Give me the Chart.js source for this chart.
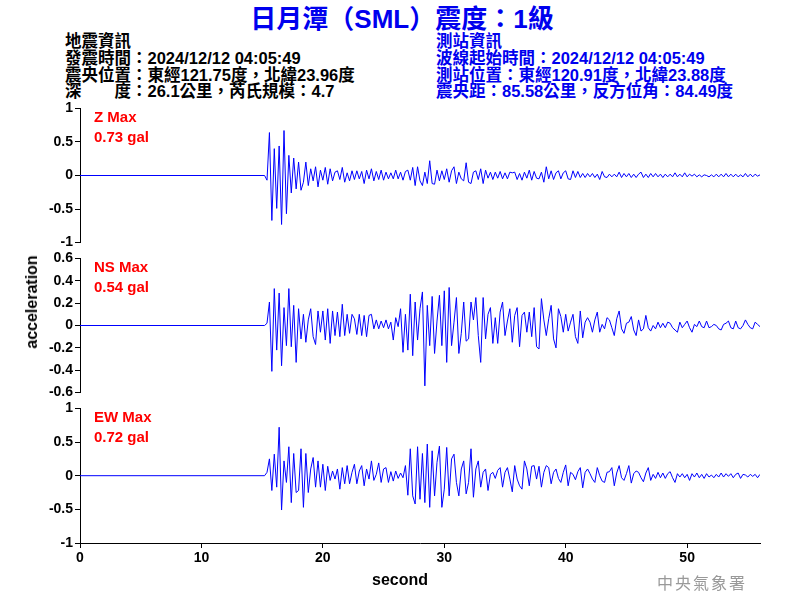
<!DOCTYPE html>
<html>
<head>
<meta charset="utf-8">
<script src="https://cdn.jsdelivr.net/npm/chart.js@4.4.1/dist/chart.umd.min.js"></script>
<style>
  body { margin: 0; background: #fff; }
  #wrap { position: relative; width: 800px; height: 600px; overflow: hidden;
          font-family: "Liberation Sans", Arial, "Noto Sans CJK TC", sans-serif; }
  canvas { position: absolute; left: 0; }
  #title { position: absolute; left: 0; top: 4px; width: 804px; text-align: center;
           font-size: 26px; font-weight: bold; color: #0000ee; line-height: 30px; }
  .info { position: absolute; top: 33px; font-size: 16.5px; font-weight: bold; line-height: 16.8px; white-space: nowrap; }
  #infoL { left: 65px; color: #000; }
  #infoR { left: 436px; color: #0000ee; }
  #ylab { position: absolute; left: 32px; top: 302px; transform: translate(-50%, -50%) rotate(-90deg);
          font-size: 16px; font-weight: bold; white-space: nowrap; }
  #xlab { position: absolute; left: 400px; top: 580px; transform: translate(-50%, -50%);
          font-size: 16px; font-weight: bold; }
  #mark { position: absolute; left: 657px; top: 570px; font-size: 16px; color: #999;
          letter-spacing: 2px; font-family: "Noto Sans CJK TC", sans-serif; }
</style>
</head>
<body>
<div id="wrap">
  <div id="title">日月潭（SML）震度：1級</div>
  <div class="info" id="infoL">地震資訊<br>發震時間：2024/12/12 04:05:49<br>震央位置：東經121.75度，北緯23.96度<br>深　　度：26.1公里，芮氏規模：4.7</div>
  <div class="info" id="infoR">測站資訊<br>波線起始時間：2024/12/12 04:05:49<br>測站位置：東經120.91度，北緯23.88度<br>震央距：85.58公里，反方位角：84.49度</div>
  <canvas id="cz" width="800" height="155" style="top:98px"></canvas>
  <canvas id="cns" width="800" height="155" style="top:248px"></canvas>
  <canvas id="cew" width="800" height="202" style="top:398px"></canvas>
  <div id="ylab">acceleration</div>
  <div id="xlab">second</div>
  <div id="mark">中央氣象署</div>
</div>
<script>
// record starts at T0 (flat before), one value every DT seconds
const T0 = 15.2;
const DT = 0.2;
const X_MAX = 56;

const zVals = [
  0, -0.07, 0.64, -0.67, 0.4, -0.49, 0.44, -0.73, 0.67, -0.57,
  0.3, -0.26, 0.26, -0.2, 0.2, -0.22, -0.1, 0.2, -0.15, 0.1,
  -0.08, 0.13, -0.17, 0.08, -0.07, 0.12, -0.13, 0.1, -0.08, 0.05,
  0.07, -0.06, 0.12, -0.1, 0.04, -0.08, 0.07, -0.06, 0.07, -0.05,
  0.06, -0.12, 0.08, -0.05, 0.1, -0.08, 0.06, -0.06, 0.08, -0.07,
  0.05, -0.05, 0.04, -0.05, 0.08, -0.05, 0.05, -0.07, 0.06, 0.08,
  -0.07, 0.12, -0.15, 0.13, -0.08, -0.15, 0.05, -0.12, 0.22, -0.12,
  -0.13, 0.08, -0.08, 0.07, -0.06, 0.1, -0.1, 0.07, 0.13, -0.12,
  0.05, -0.05, -0.08, 0.19, -0.1, -0.12, 0.05, 0.07, -0.06, 0.1,
  -0.12, 0.08, -0.04, 0.05, -0.06, 0.05, -0.04, 0.06, -0.05, 0.04,
  -0.05, 0.05, 0.04, 0.05, -0.06, 0.03, -0.07, 0.05, -0.04, 0.08,
  -0.07, 0.06, -0.04, -0.05, 0.05, -0.1, 0.13, -0.05, 0.07, -0.06,
  0.04, 0.07, -0.05, 0.04, 0.07, -0.05, -0.06, 0.07, -0.03, 0.06,
  -0.03, 0.03, -0.03, 0.03, -0.02, 0.03, -0.03, 0.02, -0.06, 0.06,
  -0.02, -0.03, 0.02, -0.02, 0.02, -0.02, 0.05, -0.03, 0.03, -0.02,
  0.03, -0.03, 0.02, -0.03, 0.02, 0.05, -0.03, 0.02, -0.03, 0.03,
  -0.02, 0.03, -0.02, 0.02, -0.03, 0.02, -0.02, 0.02, -0.02, 0.04,
  -0.02, 0.02, -0.02, 0.04, -0.02, 0.02, -0.01, 0.02, -0.02, 0.01,
  -0.02, 0.01, 0, -0.02, 0.01, -0.02, 0.02, -0.02, 0.02, -0.02,
  0.03, -0.02, 0.02, -0.02, 0.02, -0.02, 0.01, -0.02, 0.03, -0.02,
  0.02, -0.02, 0.02, -0.01, 0.01
];

const nsVals = [
  0, 0.02, 0.21, -0.41, 0.33, -0.22, 0.29, -0.36, 0.16, -0.18,
  0.33, -0.19, 0.18, -0.33, 0.15, -0.12, 0.1, -0.15, 0.05, 0.15,
  -0.1, -0.17, 0.13, -0.06, 0.13, -0.13, 0.15, -0.16, 0.13, -0.09,
  0.12, -0.1, 0.19, -0.09, 0.1, -0.07, 0.1, 0.06, -0.08, 0.1,
  -0.09, 0.09, -0.1, 0.09, 0.1, -0.03, 0.05, -0.03, 0.04, -0.02,
  0.05, -0.03, 0.03, -0.13, 0.07, -0.01, 0.15, -0.24, 0.1, -0.22,
  0.28, -0.27, 0.21, -0.13, 0.15, 0.3, -0.54, 0.18, -0.18, 0.26,
  -0.25, 0.04, 0.27, -0.18, 0.31, -0.33, 0.34, -0.18, 0.03, 0.25,
  -0.25, -0.07, 0.21, -0.14, -0.12, 0.21, 0.05, 0.25, -0.09, -0.33,
  0.25, -0.12, 0.1, 0.16, -0.16, 0.07, -0.16, 0.12, 0.21, -0.09,
  0.04, 0.15, -0.15, 0.09, 0.16, -0.19, 0.09, 0.12, -0.06, 0.12,
  -0.1, 0.16, -0.19, -0.21, 0.24, 0.05, -0.09, 0.06, 0.18, -0.12,
  -0.2, 0.15, 0.08, -0.06, 0.1, -0.05, 0.03, 0.1, -0.1, -0.16,
  0.13, -0.11, 0.03, 0.07, 0.03, -0.06, 0.05, 0.12, -0.06, 0.01,
  -0.03, 0.07, 0.05, -0.02, -0.09, 0.06, 0.13, -0.03, -0.07, 0.02,
  0.03, 0.08, -0.04, -0.09, 0.05, -0.05, -0.03, 0.09, -0.02, -0.05,
  0, -0.03, 0.03, -0.02, 0.02, -0.02, 0.03, 0.02, -0.02, -0.04,
  -0.06, 0.03, -0.02, 0.01, 0.04, -0.02, -0.06, 0.01, -0.01, 0.04,
  -0.01, -0.02, 0.04, -0.02, -0.01, 0.01, 0, -0.03, -0.04, 0.01,
  0.02, 0.04, -0.02, -0.03, 0.04, -0.02, -0.03, 0, 0.05, 0.01,
  -0.02, -0.03, 0.03, 0.01, -0.01
];

const ewVals = [
  0, 0.05, 0.25, -0.22, 0.32, -0.17, 0.72, -0.51, 0.22, -0.1,
  0.43, -0.4, 0.33, -0.25, -0.22, 0.4, -0.47, 0.33, -0.25, 0.1,
  0.27, -0.17, 0.22, -0.17, 0.17, -0.22, 0.14, -0.07, 0.07, -0.05,
  0.1, -0.2, 0.12, -0.12, 0.15, -0.12, 0.05, 0.17, -0.12, 0.07,
  0.15, -0.15, 0.1, -0.05, 0.22, -0.07, 0.02, 0.19, -0.1, 0.1,
  0.12, -0.1, 0.06, -0.08, 0.07, -0.04, 0.04, -0.03, 0.15, -0.29,
  0.4, -0.3, -0.42, 0.43, -0.35, 0.33, -0.4, 0.47, -0.47, 0.37,
  -0.3, 0.2, 0.44, -0.47, -0.2, 0.42, -0.3, 0.25, 0.32, -0.1,
  -0.3, 0.1, 0.22, -0.27, -0.1, 0.4, -0.32, 0.1, 0.22, -0.17,
  0.05, 0.1, -0.22, 0.02, 0.05, -0.04, 0.08, 0.12, -0.17, 0.05,
  0.12, -0.05, -0.24, 0.15, -0.05, -0.15, -0.2, 0.22, 0.1, -0.15,
  0.14, 0.15, -0.05, 0.14, -0.17, 0.05, 0.15, 0.12, -0.12, 0.05,
  0.1, -0.04, -0.1, 0.05, 0.16, -0.15, 0.05, 0.02, -0.06, 0.06,
  0.12, -0.18, 0.05, 0.1, 0.03, -0.05, -0.1, 0.12, 0, -0.08,
  -0.1, 0.05, 0.06, 0.12, -0.15, 0.04, 0.15, -0.03, -0.07, 0.03,
  0.15, -0.11, 0.03, 0.07, 0.05, -0.03, -0.09, 0.04, 0.12, -0.07,
  0.02, -0.04, 0.05, -0.03, 0.04, -0.04, 0.03, 0.06, -0.03, -0.1,
  0.03, -0.02, 0.03, -0.03, 0.02, -0.07, 0.03, -0.02, 0.04, -0.03,
  0.02, -0.04, 0.03, -0.02, 0.01, -0.03, 0.02, -0.02, 0.04, -0.02,
  0.03, -0.01, 0.03, -0.03, 0.02, 0.04, -0.04, 0.02, 0.01, -0.02,
  0.02, -0.01, 0.02, -0.03, 0.02
];

const zPeak = '0.73 gal';
const nsPeak = '0.54 gal';
const ewPeak = '0.72 gal';

const tickFont = { family: 'Liberation Sans', weight: 'bold', size: 14 };

function toPoints(vals) {
  const pts = [{ x: 0, y: 0 }];
  vals.forEach((v, i) => pts.push({ x: +(T0 + i * DT).toFixed(2), y: v }));
  return pts;
}

const maxLabel = {
  id: 'maxLabel',
  afterDraw(chart, args, opts) {
    const { ctx, chartArea } = chart;
    ctx.save();
    ctx.fillStyle = '#ff0000';
    ctx.font = 'bold 15px "Liberation Sans"';
    ctx.fillText(opts.name, chartArea.left + 14, chartArea.top + 14);
    ctx.fillText(opts.peak, chartArea.left + 14, chartArea.top + 34);
    ctx.restore();
  }
};

function makePanel(id, vals, yMin, yMax, yStep, name, peak, showX) {
  new Chart(document.getElementById(id), {
    type: 'line',
    data: {
      datasets: [{
        data: toPoints(vals),
        borderColor: '#0000ff',
        borderWidth: 1,
        pointRadius: 0,
        tension: 0,
        fill: false
      }]
    },
    options: {
      responsive: false,
      animation: false,
      layout: { padding: { top: 10, bottom: showX ? 0 : 10, left: 0, right: 40 } },
      plugins: {
        legend: { display: false },
        tooltip: { enabled: false },
        maxLabel: { name: name, peak: peak }
      },
      scales: {
        x: {
          type: 'linear',
          min: 0,
          max: X_MAX,
          display: showX,
          ticks: { stepSize: 10, includeBounds: false, color: '#000', font: tickFont, padding: 2, maxRotation: 0 },
          grid: { drawOnChartArea: false, tickLength: 5, color: '#000' },
          border: { color: '#000' },
          afterFit: s => { if (showX) s.height = 57; }
        },
        y: {
          min: yMin,
          max: yMax,
          ticks: {
            stepSize: yStep, autoSkip: false, color: '#000', font: tickFont, padding: 2,
            callback: v => String(+v.toFixed(2))
          },
          grid: { drawOnChartArea: false, tickLength: 5, color: '#000' },
          border: { color: '#000' },
          afterFit: s => { s.width = 80; }
        }
      }
    },
    plugins: [maxLabel]
  });
}

makePanel('cz', zVals, -1, 1, 0.5, 'Z Max', zPeak, false);
makePanel('cns', nsVals, -0.6, 0.6, 0.2, 'NS Max', nsPeak, false);
makePanel('cew', ewVals, -1, 1, 0.5, 'EW Max', ewPeak, true);
</script>
</body>
</html>
